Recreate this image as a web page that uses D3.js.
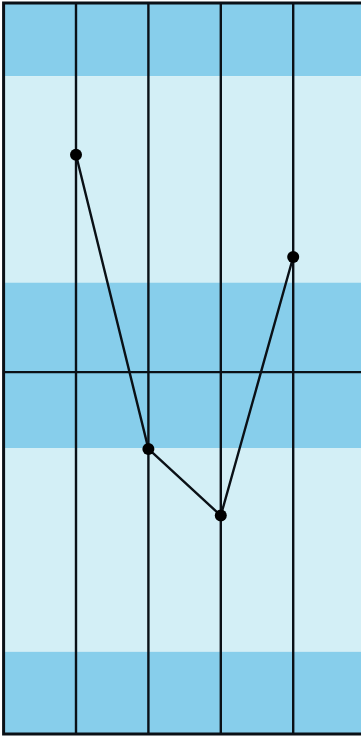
<!DOCTYPE html>
<meta charset="utf-8">
<title>Bands</title>
<style>
body { margin: 0; background: #fff; }
svg { display: block; }
</style>
<body>
<script src="https://cdn.jsdelivr.net/npm/d3@7"></script>
<script>
'use strict';

// column positions of the points
const xs = [1, 2, 3, 4];
const ys = [11.9, -4.2, -7.85, 6.3];

// shaded bands: [from, to, kind]
const bandFrom = [16.2, 4.9, -4.15, -15.3, -19.8];
const bandTo   = [20.2, 16.2, 4.9, -4.15, -15.3];
const bandKind = ["dark", "light", "dark", "light", "dark"];

const xGrid = [1, 2, 3, 4];
const yGrid = [0];

const W = 361, H = 737;
const color = {dark: "#87ceeb", light: "#d3eff6"};
const ink = "#0a1016";

const x = d3.scaleLinear().domain([0, 5]).range([3.6, 365.6]);
const y = d3.scaleLinear().domain([-19.8, 20.2]).range([734, 3]);

const svg = d3.select("body").append("svg")
    .attr("width", W)
    .attr("height", H);

svg.selectAll(".band")
    .data(bandFrom.map((d, i) => ({from: d, to: bandTo[i], kind: bandKind[i]})))
  .enter().append("rect")
    .attr("class", "band")
    .attr("x", x(0))
    .attr("width", x(5) - x(0))
    .attr("y", (d) => y(d.to))
    .attr("height", (d) => y(d.from) - y(d.to))
    .attr("fill", (d) => color[d.kind]);

svg.selectAll(".vgrid")
    .data(xGrid)
  .enter().append("line")
    .attr("x1", (d) => x(d)).attr("x2", (d) => x(d))
    .attr("y1", y(20.2)).attr("y2", y(-19.8))
    .attr("stroke", ink)
    .attr("stroke-width", 2.4);

svg.selectAll(".hgrid")
    .data(yGrid)
  .enter().append("line")
    .attr("x1", x(0)).attr("x2", x(5))
    .attr("y1", (d) => y(d)).attr("y2", (d) => y(d))
    .attr("stroke", ink)
    .attr("stroke-width", 2.4);

// frame
svg.append("rect")
    .attr("x", x(0))
    .attr("y", y(20.2))
    .attr("width", x(5) - x(0))
    .attr("height", y(-19.8) - y(20.2))
    .attr("fill", "none")
    .attr("stroke", ink)
    .attr("stroke-width", 3);

const pts = xs.map((d, i) => [d, ys[i]]);

svg.append("path")
    .datum(pts)
    .attr("d", d3.line().x((d) => x(d[0])).y((d) => y(d[1])))
    .attr("fill", "none")
    .attr("stroke", ink)
    .attr("stroke-width", 2.4);

svg.selectAll(".dot")
    .data(pts)
  .enter().append("circle")
    .attr("cx", (d) => x(d[0]))
    .attr("cy", (d) => y(d[1]))
    .attr("r", 6)
    .attr("fill", "#000");
</script>
